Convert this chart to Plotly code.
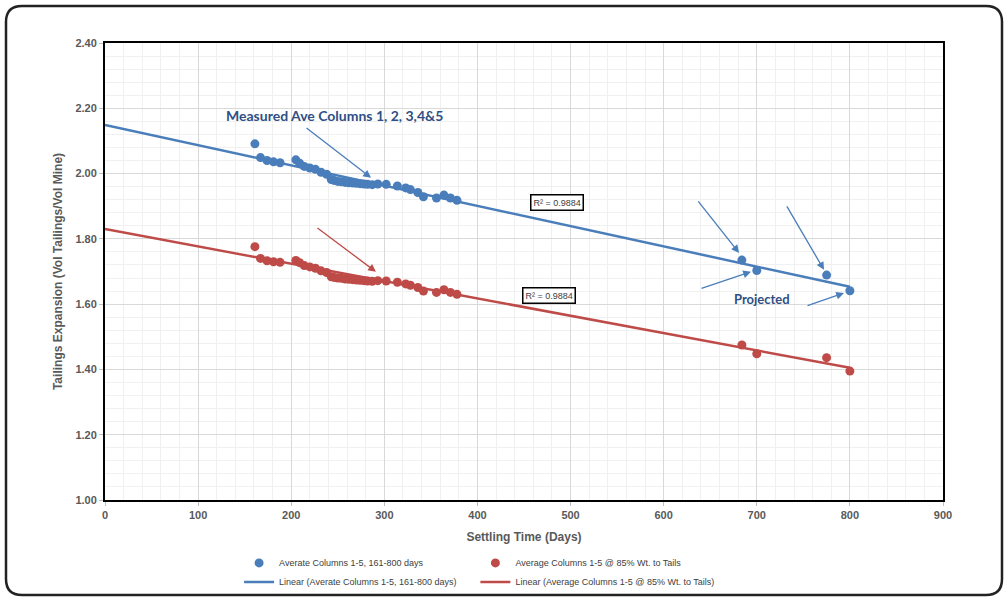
import plotly.graph_objects as go

# Settling time (days) for each measurement / projection
days = [161, 167, 174, 181, 188, 205, 209, 214, 220, 226, 232, 238, 243, 246,
        250, 254, 258, 262, 266, 270, 274, 278, 282, 287, 293, 302, 314, 323,
        328, 336, 342, 356, 364, 371, 378, 684, 700, 775, 800]

# Average of columns 1-5
avg_cols = [2.091, 2.049, 2.040, 2.036, 2.033, 2.042, 2.032, 2.022, 2.017, 2.013,
            2.004, 1.998, 1.982, 1.979, 1.976, 1.975, 1.973, 1.972, 1.971, 1.970,
            1.969, 1.968, 1.967, 1.966, 1.968, 1.967, 1.962, 1.956, 1.951, 1.942,
            1.929, 1.925, 1.934, 1.925, 1.918, 1.735, 1.703, 1.689, 1.641]

# Average of columns 1-5 at 85% weight to tails
avg_85 = [1.776, 1.740, 1.733, 1.730, 1.728, 1.734, 1.727, 1.718, 1.714, 1.710,
          1.702, 1.697, 1.684, 1.682, 1.680, 1.679, 1.677, 1.676, 1.675, 1.674,
          1.673, 1.672, 1.671, 1.670, 1.672, 1.671, 1.667, 1.662, 1.658, 1.651,
          1.640, 1.636, 1.644, 1.636, 1.630, 1.475, 1.448, 1.436, 1.395]

# Linear trendlines (endpoints)
trend_days = [0, 800]
trend_avg = [2.149, 1.653]
trend_85 = [1.830, 1.405]

r2_label = "R² = 0.9884"

BLUE = "#4A7EBB"
RED = "#BE4B48"
TXT = "#595959"
NOTE = "#2F4F86"

fig = go.Figure()

fig.add_trace(go.Scatter(
    x=days, y=avg_cols, mode="markers", name="Averate Columns 1-5, 161-800 days",
    marker=dict(color=BLUE, size=9), legend="legend"))
fig.add_trace(go.Scatter(
    x=trend_days, y=trend_avg, mode="lines",
    name="Linear (Averate Columns 1-5, 161-800 days)",
    line=dict(color=BLUE, width=2.5), legend="legend"))
fig.add_trace(go.Scatter(
    x=days, y=avg_85, mode="markers", name="Average Columns 1-5 @ 85% Wt. to Tails",
    marker=dict(color=RED, size=9), legend="legend2"))
fig.add_trace(go.Scatter(
    x=trend_days, y=trend_85, mode="lines",
    name="Linear (Average Columns 1-5 @ 85% Wt. to Tails)",
    line=dict(color=RED, width=2.5), legend="legend2"))

annotations = [
    dict(x=247, y=2.179, text="<b>Measured Ave Columns 1, 2, 3,4&5</b>", showarrow=False,
         font=dict(family="Lato", size=14, color=NOTE)),
    dict(x=705.6, y=1.616, text="<b>Projected</b>", showarrow=False,
         font=dict(family="Lato", size=13, color=NOTE)),
    dict(x=485.4, y=1.910, text=r2_label, showarrow=False, bgcolor="white",
         bordercolor="black", borderwidth=1.5, borderpad=2,
         font=dict(family="Arial", size=9, color="#404040")),
    dict(x=476.9, y=1.628, text=r2_label, showarrow=False, bgcolor="white",
         bordercolor="black", borderwidth=1.5, borderpad=2,
         font=dict(family="Arial", size=9, color="#404040")),
]

# Pointer arrows: (head x, head y, tail offset px, colour)
arrows = [
    (285.7, 1.987, -66, -51, BLUE),
    (291.0, 1.699, -60, -45, RED),
    (681.0, 1.757, -42, -53, BLUE),
    (693.8, 1.699, -51, 17, BLUE),
    (772.2, 1.705, -38, -65, BLUE),
    (793.7, 1.634, -38, 13, BLUE),
]
for hx, hy, ax, ay, c in arrows:
    annotations.append(dict(x=hx, y=hy, ax=ax, ay=ay, text="", showarrow=True,
                            arrowhead=2, arrowsize=1.2, arrowwidth=1.3,
                            arrowcolor=c))

# Rounded outer frame (paper coordinates derived from pixel layout)
L, R, T, B = 105, 943, 43, 500
def px(xp, yp):
    return (xp - L) / (R - L), (B - yp) / (B - T)

x0, y0 = px(6, 6)
x1, y1 = px(1002, 595)
rx = 16 / (R - L)
ry = 16 / (B - T)
frame = (f"M {x0+rx},{y0} L {x1-rx},{y0} Q {x1},{y0} {x1},{y0-ry} "
         f"L {x1},{y1+ry} Q {x1},{y1} {x1-rx},{y1} L {x0+rx},{y1} "
         f"Q {x0},{y1} {x0},{y1+ry} L {x0},{y0-ry} Q {x0},{y0} {x0+rx},{y0} Z")

legend_font = dict(family="Arial", size=9, color="#404040")

fig.update_layout(
    width=1008, height=600,
    margin=dict(l=L, r=1008 - R, t=T, b=600 - B, autoexpand=False),
    paper_bgcolor="white", plot_bgcolor="white",
    font=dict(family="Arial", color=TXT),
    annotations=annotations,
    shapes=[dict(type="path", path=frame, xref="paper", yref="paper",
                 line=dict(color="#222222", width=2.5), layer="above")],
    legend=dict(x=0.160, y=-0.106, xanchor="left", yanchor="top",
                orientation="v", font=legend_font,
                bgcolor="rgba(0,0,0,0)", tracegroupgap=0),
    legend2=dict(x=0.442, y=-0.106, xanchor="left", yanchor="top",
                 orientation="v", font=legend_font,
                 bgcolor="rgba(0,0,0,0)", tracegroupgap=0),
)

fig.update_xaxes(
    range=[0, 900], dtick=100, tick0=0,
    showgrid=True, gridcolor="#D9D9D9", gridwidth=1,
    minor=dict(dtick=20, showgrid=True, gridcolor="#F0F0F0"),
    showline=True, linecolor="black", linewidth=2, mirror=True,
    ticks="outside", ticklen=4, tickcolor="#BFBFBF",
    tickfont=dict(size=11, color=TXT, family="Arial", weight="bold"),
    title=dict(text="<b>Settling Time (Days)</b>", font=dict(size=12, color=TXT),
               standoff=12),
    zeroline=False, automargin=False,
)
fig.update_yaxes(
    range=[1.0, 2.4], dtick=0.2, tick0=1.0, tickformat=".2f",
    showgrid=True, gridcolor="#D9D9D9", gridwidth=1,
    minor=dict(dtick=0.04, showgrid=True, gridcolor="#F0F0F0"),
    showline=True, linecolor="black", linewidth=2, mirror=True,
    ticks="outside", ticklen=4, tickcolor="#BFBFBF",
    tickfont=dict(size=11, color=TXT, family="Arial", weight="bold"),
    title=dict(text="<b>Tailings Expansion (Vol Tailings/Vol Mine)</b>",
               font=dict(size=12, color=TXT), standoff=10),
    zeroline=False, automargin=False,
)

fig.write_html("out.html")
